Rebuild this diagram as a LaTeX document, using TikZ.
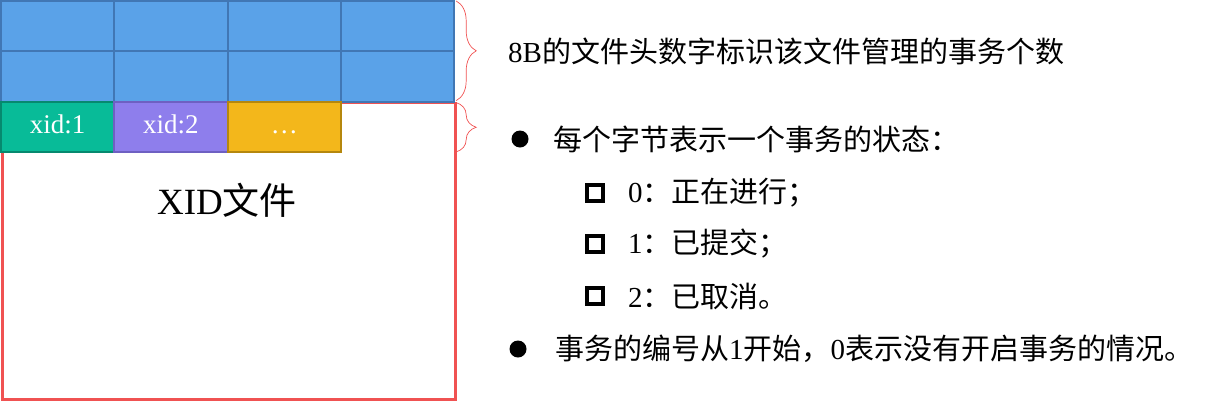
\documentclass[tikz,border=0pt]{standalone}
\usepackage{fontspec}
\setmainfont{Liberation Serif}
\newfontfamily\cjk{Noto Sans CJK SC}
\newcommand{\zh}[1]{{\cjk #1}}
\usetikzlibrary{positioning,decorations.pathreplacing}

\definecolor{hdrblue}{HTML}{5AA2E8}
\definecolor{hdrline}{HTML}{4177B4}
\definecolor{xidgreen}{HTML}{08BB98}
\definecolor{xidgreenline}{HTML}{06896F}
\definecolor{xidpurple}{HTML}{8E7EEC}
\definecolor{xidpurpleline}{HTML}{6E60C2}
\definecolor{xidorange}{HTML}{F3B71B}
\definecolor{xidorangeline}{HTML}{B5870D}
\definecolor{filered}{HTML}{F05252}

\begin{document}
\begin{tikzpicture}[
    x=1pt, y=-1pt,
    cell/.style={draw, line width=2.2pt, anchor=north west, minimum width=113.3pt, minimum height=50.3pt,
        inner sep=0pt, outer sep=0pt, text=white, text height=19pt, text depth=6pt,
        font=\fontsize{27}{30}\selectfont},
    hdr/.style={cell, fill=hdrblue, draw=hdrline},
    brc/.style={draw=filered, line width=0.7pt, decorate, decoration={brace, amplitude=20pt}},
    txt/.style={anchor=west, inner sep=0pt, font=\fontsize{29}{32}\selectfont},
    dot/.style={circle, fill=black, minimum size=17pt, inner sep=0pt},
    box/.style={draw, line width=4pt, minimum size=16pt, inner sep=0pt}
]
    \useasboundingbox (0,0) rectangle (1218,400);

    % file body
    \node[draw=filered, line width=2.6pt, anchor=north west, minimum width=453pt, minimum height=296.5pt,
        inner sep=0pt] (xidfile) at (1,101.6) {};
    \node[font=\fontsize{37}{40}\selectfont] (title) at (227,200) {XID\zh{文件}};

    % 8B header
    \foreach \r in {0,1}{
        \foreach \c in {0,...,3}{
            \node[hdr] (h\r\c) at ({1+113.3*\c},{1+50.3*\r}) {};
        }
    }

    % transaction slots
    \node[cell, fill=xidgreen, draw=xidgreenline] (x1) at (1,101.6) {xid:1};
    \node[cell, fill=xidpurple, draw=xidpurpleline, anchor=west] (x2) [right=0pt of x1] {xid:2};
    \node[cell, fill=xidorange, draw=xidorangeline, anchor=west] (x3) [right=0pt of x2] {…};

    % braces
    \coordinate (br1) at ([xshift=2pt]h03.north east);
    \coordinate (br2) at ([xshift=2pt]h13.south east);
    \coordinate (br3) at (br2 |- x3.south);
    \draw[brc] (br1) -- ([yshift=1pt]br2);
    \draw[brc] ([yshift=-1pt]br2) -- (br3);

    % notes
    \node[txt] (hdrtext) at (508,51) {8B\zh{的文件头数字标识该文件管理的事务个数}};

    \node[dot] (b1) at (520,139) {};
    \node[txt] (t1) at (553,139) {\zh{每个字节表示一个事务的状态：}};
    \node[box] (s1) at (595,193) {};
    \node[txt] (u1) at (628,193) {0\zh{：正在进行；}};
    \node[box] (s2) at (595,244) {};
    \node[txt] (u2) at (628,244) {1\zh{：已提交；}};
    \node[box] (s3) at (595,296) {};
    \node[txt] (u3) at (628,296) {2\zh{：已取消。}};
    \node[dot] (b2) at (518,349) {};
    \node[txt] (t2) at (555,349) {\zh{事务的编号从}1\zh{开始，}0\zh{表示没有开启事务的情况。}};
\end{tikzpicture}
\end{document}
